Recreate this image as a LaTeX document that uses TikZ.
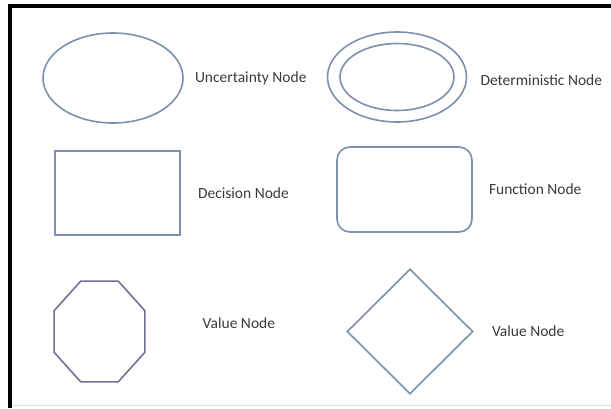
\documentclass[tikz,border=0pt]{standalone}
\usepackage{fontspec}
\setmainfont{Carlito}
\usepackage{tikz}
\usetikzlibrary{positioning}
\usetikzlibrary{shapes.geometric}
\definecolor{shapeblue}{RGB}{122,145,172}
\definecolor{octblue}{RGB}{110,114,150}
\definecolor{labelgray}{RGB}{58,58,58}

\begin{document}
\begin{tikzpicture}[x=1pt, y=-1pt,
    outline/.style={draw=shapeblue, line width=1.6pt, inner sep=0pt},
    legend/.style={text=labelgray, inner sep=0pt, font=\fontsize{15.5}{18}\selectfont}]
    \useasboundingbox (0,0) rectangle (611,408);

    % frame
    \draw[line width=3.5pt] (10,408) -- (10,6) -- (611,6);
    \draw[black!12, line width=1pt] (12,405.5) -- (611,405.5);

    % first row
    \node[outline, ellipse, minimum width=140pt, minimum height=90pt] (unc) at (113,78) {};
    \node[legend, right=11pt of unc] (unclabel) {Uncertainty Node};

    \node[outline, ellipse, minimum width=139pt, minimum height=90pt] (det) at (397,77) {};
    \node[outline, ellipse, minimum width=114pt, minimum height=67pt] (detin) at (det.center) {};
    \node[legend, right=13pt of det, yshift=-3pt] (detlabel) {Deterministic Node};

    % second row
    \node[outline, rectangle, minimum width=125pt, minimum height=84pt] (dec) at (117.5,193) {};
    \node[legend, right=17pt of dec] (declabel) {Decision Node};

    \node[outline, rectangle, rounded corners=13pt, minimum width=135pt, minimum height=85pt] (fun) at (404.5,189.5) {};
    \node[legend, right=16pt of fun] (funlabel) {Function Node};

    % third row
    \node[outline, draw=octblue, regular polygon, regular polygon sides=8,
          minimum size=109pt, xscale=0.9] (val) at (99.5,331.5) {};
    \node[legend, right=57pt of val, yshift=8.5pt] (vallabel) {Value Node};

    \node[outline, diamond, aspect=1, minimum width=126pt, minimum height=125pt] (valdia) at (410,331.5) {};
    \node[legend, right=18pt of valdia] (valdialabel) {Value Node};
\end{tikzpicture}
\end{document}
